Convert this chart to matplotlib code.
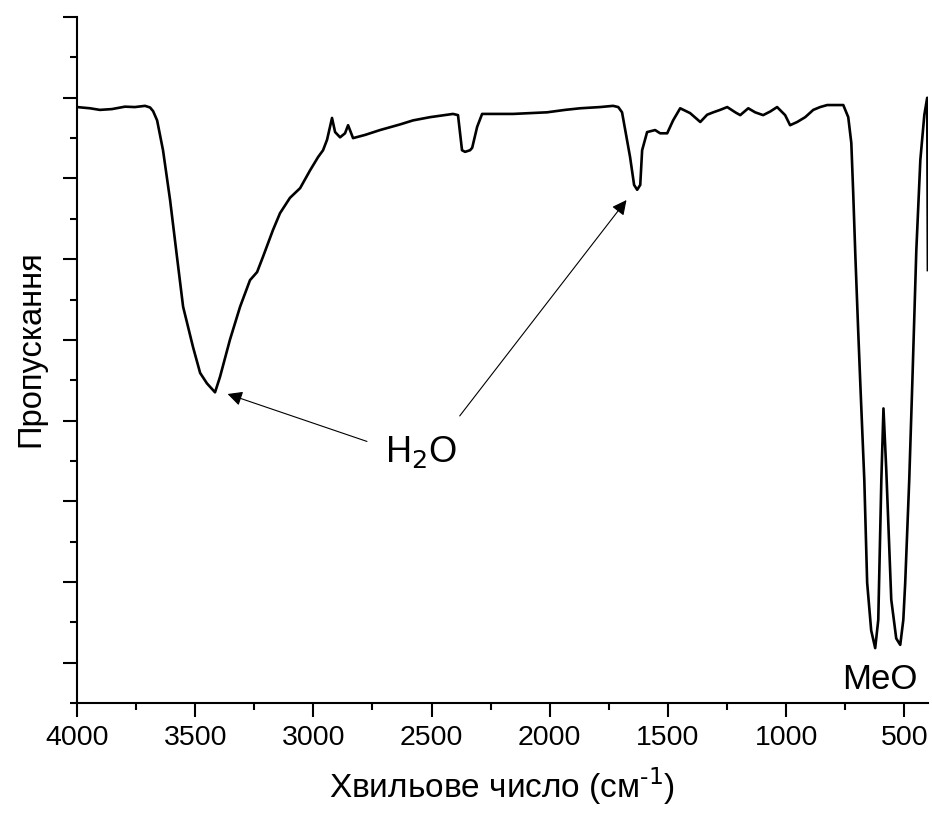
import numpy as np
import matplotlib.pyplot as plt
from matplotlib.ticker import MultipleLocator, NullFormatter

plt.rcParams['font.family'] = ['Liberation Sans', 'DejaVu Sans']

# ІЧ-спектр (хвильове число, пропускання)
wavenumber = [4000, 3945, 3903, 3852, 3797, 3755, 3712, 3691, 3678, 3661,
              3636, 3606, 3577, 3551, 3509, 3479, 3450, 3416, 3395, 3353,
              3310, 3268, 3238, 3213, 3171, 3141, 3099, 3056, 3014, 2980,
              2959, 2942, 2921, 2908, 2887, 2866, 2853, 2832, 2781, 2718,
              2633, 2578, 2506, 2409, 2388, 2371, 2358, 2337, 2328, 2307,
              2286, 2210, 2155, 2083, 2011, 1935, 1871, 1787, 1732, 1710,
              1694, 1660, 1643, 1630, 1617, 1609, 1588, 1554, 1533, 1503,
              1478, 1448, 1406, 1363, 1334, 1308, 1279, 1249, 1215, 1194,
              1160, 1131, 1097, 1067, 1038, 1004, 983, 953, 919, 885,
              856, 826, 758, 737, 724, 716, 707, 695, 686, 669,
              657, 640, 623, 610, 597, 588, 576, 555, 534, 517,
              504, 496, 479, 466, 449, 432, 415, 403, 400]
transmittance = [88.85, 88.7, 88.5, 88.6, 88.9, 88.85, 89.0, 88.8, 88.35, 87.2,
                 83.5, 77.3, 70.3, 64.1, 59.1, 55.9, 54.6, 53.5, 55.4, 60.0,
                 64.1, 67.4, 68.4, 70.3, 73.6, 75.7, 77.6, 78.8, 81.0, 82.65,
                 83.5, 84.8, 87.5, 85.75, 85.1, 85.6, 86.6, 85.0, 85.4, 86.0,
                 86.7, 87.2, 87.6, 88.0, 87.85, 83.5, 83.3, 83.5, 83.8, 86.4,
                 88.0, 88.0, 88.0, 88.1, 88.2, 88.5, 88.7, 88.85, 89.0, 88.85,
                 88.2, 82.65, 79.2, 78.6, 79.2, 83.5, 85.75, 86.0, 85.6, 85.6,
                 87.2, 88.7, 88.1, 87.0, 87.9, 88.2, 88.5, 88.85, 88.2, 87.85,
                 88.7, 88.2, 87.85, 88.3, 88.85, 87.85, 86.6, 87.0, 87.6, 88.5,
                 88.85, 89.1, 89.1, 87.6, 84.4, 78.2, 70.5, 61.2, 54.6, 42.6,
                 29.9, 24.0, 21.8, 25.3, 42.6, 51.5, 43.8, 27.8, 23.0, 22.2,
                 25.3, 29.9, 42.6, 54.6, 71.1, 82.3, 87.9, 90.0, 68.65]

fig = plt.figure(figsize=(9.32, 8.14), dpi=100)
ax = fig.add_axes([0.0826, 0.1364, 0.913, 0.8426])

ax.plot(wavenumber, transmittance, color='black', linewidth=1.9)

ax.set_xlim(4000, 400)
ax.set_ylim(15, 100)

ax.xaxis.set_major_locator(MultipleLocator(500))
ax.xaxis.set_minor_locator(MultipleLocator(250))
ax.yaxis.set_major_locator(MultipleLocator(10))
ax.yaxis.set_minor_locator(MultipleLocator(5))
ax.yaxis.set_major_formatter(NullFormatter())

for s in ['top', 'right']:
    ax.spines[s].set_visible(False)
for s in ['left', 'bottom']:
    ax.spines[s].set_linewidth(1.5)

ax.tick_params(which='major', length=10, width=1.5, direction='out',
               labelsize=20.5, pad=6)
ax.tick_params(which='minor', length=5, width=1.5, direction='out')

ax.set_xlabel('Хвильове число (см$^{\\text{-}1}$)', fontsize=24, labelpad=10)
ax.set_ylabel('Пропускання', fontsize=23.5, labelpad=6)
ax.yaxis.set_label_coords(-0.036, 0.517)

# стрілки до смуг води
arrow = dict(arrowstyle='-|>', color='black', lw=0.8, mutation_scale=22)
ax.annotate('', xy=(3374, 53.4), xytext=(2762, 47.3), arrowprops=arrow)
ax.annotate('', xy=(1668, 77.6), xytext=(2388, 50.3), arrowprops=arrow)
ax.text(2544, 44.9, 'H$_2$O', fontsize=26, ha='center', va='baseline')
ax.text(602, 16.7, 'MeO', fontsize=25, ha='center', va='baseline')

fig.savefig('out.png', dpi=100)
